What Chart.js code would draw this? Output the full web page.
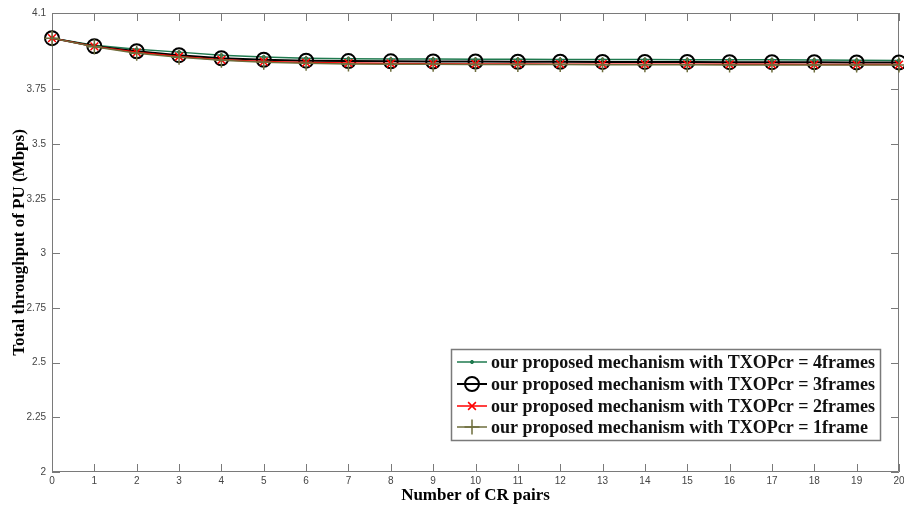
<!DOCTYPE html>
<html>
<head>
<meta charset="utf-8">
<script src="https://cdn.jsdelivr.net/npm/chart.js@4.4.1/dist/chart.umd.min.js"></script>
<style>
  html, body { margin: 0; padding: 0; background: #fff; }
  #wrap { width: 904px; height: 509px; }
</style>
</head>
<body>
<div id="wrap"><canvas id="c" width="904" height="509"></canvas></div>
<script>
// Number of CR pairs
const crPairs = [0,1,2,3,4,5,6,7,8,9,10,11,12,13,14,15,16,17,18,19,20];

// Total PU throughput (Mbps) for each TXOPcr setting
const txop4 = [3.985,3.952,3.934,3.921,3.907,3.899,3.893,3.891,3.889,3.889,3.888,3.888,3.887,3.887,3.887,3.886,3.886,3.886,3.885,3.884,3.883];
const txop3 = [3.985,3.948,3.925,3.907,3.893,3.886,3.882,3.880,3.879,3.878,3.878,3.877,3.877,3.876,3.876,3.876,3.875,3.875,3.875,3.874,3.874];
const txop2 = [3.985,3.947,3.920,3.901,3.886,3.878,3.873,3.871,3.869,3.868,3.867,3.867,3.866,3.866,3.866,3.865,3.865,3.865,3.864,3.864,3.864];
const txop1 = [3.985,3.946,3.916,3.897,3.884,3.875,3.870,3.867,3.866,3.865,3.864,3.864,3.864,3.863,3.863,3.863,3.862,3.862,3.862,3.862,3.862];

const seriesNames = [
  'our proposed mechanism with TXOPcr = 4frames',
  'our proposed mechanism with TXOPcr = 3frames',
  'our proposed mechanism with TXOPcr = 2frames',
  'our proposed mechanism with TXOPcr = 1frame'
];

// Axis ticks
const yTicks = [2, 2.25, 2.5, 2.75, 3, 3.25, 3.5, 3.75, 4.1];
const yTickLabels = ['2', '2.25', '2.5', '2.75', '3', '3.25', '3.5', '3.75', '4.1'];
const xTicks = crPairs;

const toPoints = arr => arr.map((v, i) => ({ x: crPairs[i], y: v }));

const GREEN = '#1f7a4f';
const OLIVE = '#6e6e3c';
const AXIS = '#7a7a7a';

const styles = [
  { color: GREEN, width: 1.5, pointStyle: 'circle', radius: 1.6, fill: GREEN, pw: 1 },
  { color: '#000000', width: 2, pointStyle: 'circle', radius: 7, fill: 'rgba(0,0,0,0)', pw: 2 },
  { color: '#ff0000', width: 1.5, pointStyle: 'crossRot', radius: 5.5, fill: '#ff0000', pw: 1.5 },
  { color: OLIVE, width: 1.5, pointStyle: 'cross', radius: 7.5, fill: OLIVE, pw: 1.5 }
];
const seriesData = [txop4, txop3, txop2, txop1];

const datasets = seriesData.map((d, i) => ({
  label: seriesNames[i],
  data: toPoints(d),
  borderColor: styles[i].color,
  backgroundColor: styles[i].fill,
  borderWidth: styles[i].width,
  pointStyle: styles[i].pointStyle,
  pointRadius: styles[i].radius,
  pointBorderWidth: styles[i].pw,
  pointBorderColor: styles[i].color,
  pointBackgroundColor: styles[i].fill,
  tension: 0,
  clip: false,
  order: 4 - i
}));

// Box frame, inward tick marks on all four sides, and the legend box
const framePlugin = {
  id: 'frame',
  beforeDatasetsDraw(chart) {
    const { ctx, chartArea: a, scales: { x, y } } = chart;
    const len = 8;
    ctx.save();
    ctx.strokeStyle = AXIS;
    ctx.lineWidth = 1;
    ctx.beginPath();
    ctx.rect(a.left + 0.5, a.top + 0.5, a.right - a.left - 1, a.bottom - a.top - 1);
    xTicks.forEach(v => {
      const px = Math.round(x.getPixelForValue(v)) + 0.5;
      ctx.moveTo(px, a.bottom); ctx.lineTo(px, a.bottom - len);
      ctx.moveTo(px, a.top); ctx.lineTo(px, a.top + len);
    });
    yTicks.forEach(v => {
      const py = Math.round(y.getPixelForValue(v)) + 0.5;
      ctx.moveTo(a.left, py); ctx.lineTo(a.left + len, py);
      ctx.moveTo(a.right, py); ctx.lineTo(a.right - len, py);
    });
    ctx.stroke();
    ctx.restore();
  },
  afterDraw(chart) {
    const { ctx } = chart;
    const box = { left: 451, top: 349, right: 881, bottom: 441 };
    ctx.save();
    ctx.fillStyle = '#ffffff';
    ctx.fillRect(box.left, box.top, box.right - box.left, box.bottom - box.top);
    ctx.strokeStyle = AXIS;
    ctx.lineWidth = 1.5;
    ctx.strokeRect(box.left + 0.5, box.top + 0.5, box.right - box.left - 1, box.bottom - box.top - 1);
    const rowY = [362, 384, 406, 427];
    const lineX0 = 457, lineX1 = 487;
    ctx.font = 'bold 18px "Liberation Serif", "Times New Roman", serif';
    ctx.textBaseline = 'middle';
    seriesNames.forEach((name, i) => {
      const s = styles[i];
      const yy = rowY[i];
      ctx.strokeStyle = s.color;
      ctx.lineWidth = s.width;
      ctx.beginPath();
      ctx.moveTo(lineX0, yy); ctx.lineTo(lineX1, yy);
      ctx.stroke();
      ctx.fillStyle = s.fill;
      ctx.strokeStyle = s.color;
      ctx.lineWidth = s.pw;
      Chart.helpers.drawPoint(ctx, { pointStyle: s.pointStyle, radius: s.radius, borderWidth: s.pw }, (lineX0 + lineX1) / 2, yy);
      ctx.fillStyle = '#111';
      ctx.fillText(name, 491, yy + 1);
    });
    ctx.restore();
  }
};

new Chart(document.getElementById('c'), {
  type: 'line',
  data: { datasets },
  plugins: [framePlugin],
  options: {
    responsive: false,
    animation: false,
    layout: { autoPadding: false, padding: { top: 13, right: 5, left: 0, bottom: 0 } },
    plugins: { legend: { display: false }, tooltip: { enabled: false } },
    scales: {
      x: {
        type: 'linear',
        min: 0, max: 20,
        afterBuildTicks: s => { s.ticks = xTicks.map(v => ({ value: v })); },
        afterFit: s => { s.height = 37; s.paddingRight = 0; s.paddingLeft = 0; },
        grid: { display: false, drawTicks: false },
        border: { display: false },
        ticks: {
          padding: 3,
          color: '#444',
          font: { family: '"Liberation Sans", Arial, sans-serif', size: 10 },
          maxRotation: 0,
          autoSkip: false
        },
        title: {
          display: true,
          text: 'Number of CR pairs',
          color: '#000',
          padding: { top: 0, bottom: 3 },
          font: { family: '"Liberation Serif", "Times New Roman", serif', size: 17, weight: 'bold' }
        }
      },
      y: {
        min: 2, max: 4.1,
        afterBuildTicks: s => { s.ticks = yTicks.map(v => ({ value: v })); },
        afterFit: s => { s.width = 52; },
        grid: { display: false, drawTicks: false },
        border: { display: false },
        ticks: {
          padding: 6,
          color: '#444',
          font: { family: '"Liberation Sans", Arial, sans-serif', size: 10 },
          autoSkip: false,
          callback: v => yTickLabels[yTicks.indexOf(v)] ?? ''
        },
        title: {
          display: true,
          text: 'Total throughput of PU (Mbps)',
          color: '#000',
          padding: { top: 9, bottom: 0 },
          font: { family: '"Liberation Serif", "Times New Roman", serif', size: 17, weight: 'bold' }
        }
      }
    }
  }
});
</script>
</body>
</html>
